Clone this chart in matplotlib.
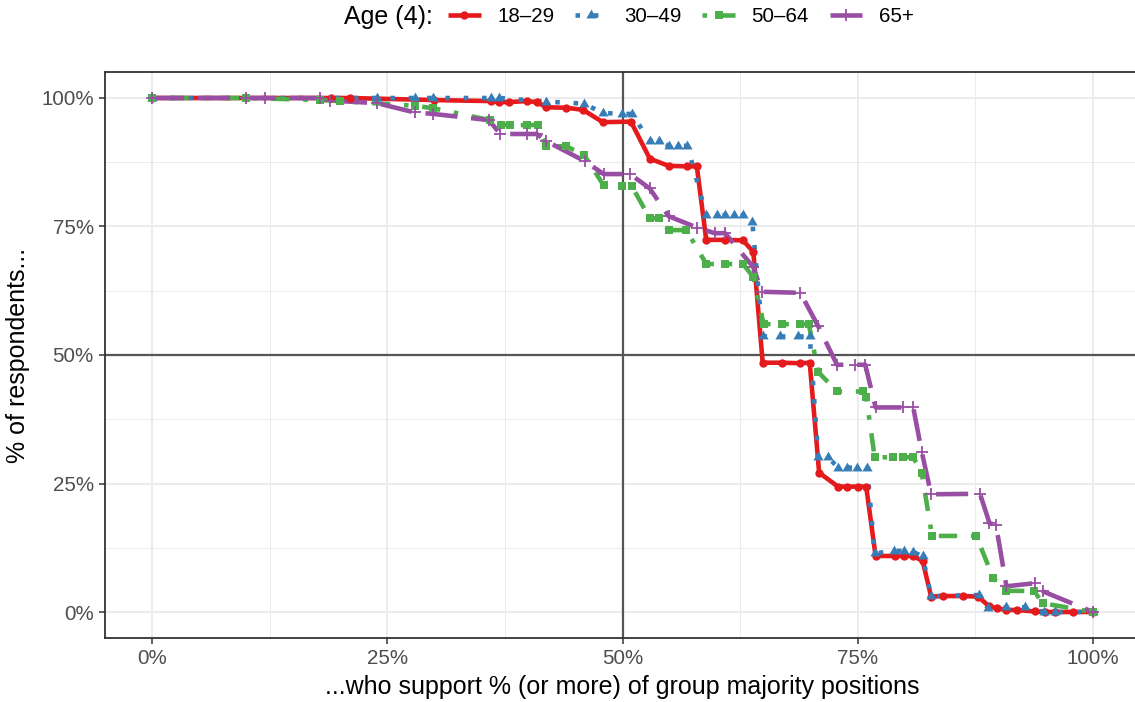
import numpy as np
import matplotlib
matplotlib.use('Agg')
import matplotlib.pyplot as plt
from matplotlib.lines import Line2D
from matplotlib.ticker import PercentFormatter, MultipleLocator

plt.rcParams['font.family'] = ['Liberation Sans', 'DejaVu Sans']

# share of respondents (y) supporting at least x of the group majority positions
x_1829 = [0.0, 0.19, 0.21, 0.30, 0.36, 0.369, 0.379, 0.398, 0.409, 0.419, 0.44, 0.458,
          0.479, 0.509, 0.529, 0.549, 0.569, 0.579, 0.589, 0.609, 0.628, 0.639, 0.649,
          0.669, 0.689, 0.699, 0.709, 0.729, 0.739, 0.75, 0.759, 0.769, 0.79, 0.799,
          0.809, 0.819, 0.828, 0.841, 0.862, 0.878, 0.889, 0.898, 0.908, 0.919, 0.938,
          0.949, 0.96, 0.979, 1.0]
y_1829 = [1.0, 1.0, 1.0, 0.996, 0.994, 0.992, 0.992, 0.994, 0.992, 0.982, 0.981, 0.977,
          0.953, 0.954, 0.882, 0.868, 0.867, 0.867, 0.724, 0.724, 0.723, 0.701, 0.485,
          0.485, 0.484, 0.485, 0.271, 0.244, 0.244, 0.244, 0.244, 0.109, 0.109, 0.109,
          0.109, 0.099, 0.030, 0.031, 0.031, 0.030, 0.012, 0.007, 0.004, 0.004, 0.001,
          0.0, 0.0, 0.0, 0.0]

x_3049 = [0.0, 0.239, 0.279, 0.299, 0.36, 0.369, 0.419, 0.459, 0.479, 0.499, 0.51,
          0.529, 0.539, 0.549, 0.559, 0.569, 0.589, 0.60, 0.609, 0.618, 0.628, 0.638,
          0.649, 0.667, 0.687, 0.699, 0.708, 0.718, 0.729, 0.739, 0.749, 0.76, 0.768,
          0.789, 0.799, 0.809, 0.819, 0.828, 0.879, 0.888, 0.908, 0.928, 0.948, 0.96, 1.0]
y_3049 = [1.0, 1.0, 1.0, 1.0, 1.0, 1.0, 0.993, 0.989, 0.971, 0.969, 0.969,
          0.916, 0.916, 0.907, 0.907, 0.907, 0.772, 0.772, 0.772, 0.772, 0.772, 0.758,
          0.536, 0.536, 0.536, 0.536, 0.302, 0.302, 0.281, 0.281, 0.281, 0.281, 0.114,
          0.119, 0.119, 0.117, 0.108, 0.031, 0.033, 0.008, 0.009, 0.009, 0.0, 0.0, 0.0]

x_5064 = [0.0, 0.10, 0.179, 0.20, 0.279, 0.299, 0.359, 0.371, 0.38, 0.398, 0.41, 0.419,
          0.44, 0.459, 0.48, 0.499, 0.51, 0.529, 0.539, 0.549, 0.568, 0.589, 0.609,
          0.628, 0.639, 0.65, 0.669, 0.689, 0.698, 0.708, 0.728, 0.756, 0.759, 0.768,
          0.788, 0.798, 0.809, 0.818, 0.829, 0.876, 0.894, 0.908, 0.937, 0.947, 1.0]
y_5064 = [1.0, 1.0, 0.996, 0.994, 0.985, 0.98, 0.957, 0.948, 0.948, 0.947, 0.948, 0.906,
          0.906, 0.89, 0.83, 0.828, 0.828, 0.766, 0.766, 0.743, 0.743, 0.677, 0.677,
          0.677, 0.652, 0.56, 0.56, 0.56, 0.56, 0.467, 0.429, 0.429, 0.419, 0.301,
          0.301, 0.301, 0.301, 0.271, 0.148, 0.148, 0.066, 0.041, 0.041, 0.017, 0.0]

x_65 = [0.0, 0.10, 0.12, 0.179, 0.189, 0.239, 0.279, 0.299, 0.358, 0.37, 0.398, 0.409,
        0.419, 0.46, 0.48, 0.508, 0.529, 0.549, 0.579, 0.598, 0.609, 0.639, 0.648,
        0.689, 0.708, 0.728, 0.747, 0.758, 0.769, 0.798, 0.809, 0.818, 0.828, 0.88,
        0.89, 0.897, 0.908, 0.938, 0.947, 1.0]
y_65 = [1.0, 1.0, 1.0, 1.0, 0.995, 0.99, 0.972, 0.969, 0.957, 0.93, 0.93, 0.93,
        0.916, 0.877, 0.852, 0.852, 0.824, 0.77, 0.748, 0.737, 0.737, 0.671, 0.623,
        0.621, 0.556, 0.481, 0.481, 0.481, 0.398, 0.398, 0.398, 0.312, 0.229, 0.23,
        0.173, 0.169, 0.05, 0.056, 0.04, 0.0]

age_labels = ['18\u201329', '30\u201349', '50\u201364', '65+']

# custom triangle with its centroid on the data point
tri = [(0, 1), (-0.866, -0.5), (0.866, -0.5), (0, 1)]

series = [
    (x_1829, y_1829, '#E41A1C', None, 'o', 6, 0),
    (x_3049, y_3049, '#377EB8', (1, 3), tri, 8.5, 0),
    (x_5064, y_5064, '#4DAF4A', (1, 3, 4, 3), 's', 6.3, 0),
    (x_65, y_65, '#984EA3', (7, 3), '+', 9, 1.3),
]

lw = 3.3

fig = plt.figure(figsize=(11.35, 7.02), dpi=100)
ax = fig.add_axes([105 / 1135, (702 - 637.7) / 702, (1140 - 105) / 1135, (637.7 - 72.3) / 702])

ax.set_xlim(-0.05, 1.05)
ax.set_ylim(-0.05, 1.05)
ax.xaxis.set_major_locator(MultipleLocator(0.25))
ax.yaxis.set_major_locator(MultipleLocator(0.25))
ax.xaxis.set_minor_locator(MultipleLocator(0.125))
ax.yaxis.set_minor_locator(MultipleLocator(0.125))
ax.xaxis.set_major_formatter(PercentFormatter(1.0, decimals=0))
ax.yaxis.set_major_formatter(PercentFormatter(1.0, decimals=0))

ax.grid(which='major', color='#EBEBEB', lw=1.3, zorder=0)
ax.grid(which='minor', color='#EBEBEB', lw=0.7, zorder=0)
ax.set_axisbelow(True)
ax.tick_params(which='minor', length=0)
ax.tick_params(which='major', length=4, width=1.1, color='#333333',
               labelsize=14.8, labelcolor='#4D4D4D', pad=4)
for s in ax.spines.values():
    s.set_color('#333333')
    s.set_linewidth(1.3)

ax.axvline(0.5, color='#555555', lw=1.6, zorder=1)
ax.axhline(0.5, color='#555555', lw=1.6, zorder=1)

handles = []
for xs, ys, col, dash, mk, ms, mew in series:
    line, = ax.plot(xs, ys, color=col, lw=lw, solid_capstyle='butt',
                    dash_capstyle='butt', zorder=2)
    if dash is not None:
        line.set_dashes(dash)
    ax.plot(xs, ys, ls='none', marker=mk, ms=ms, color=col, mew=mew, zorder=3)
    h = Line2D([], [], color=col, lw=lw, marker=mk, ms=ms, mew=mew,
               solid_capstyle='butt', dash_capstyle='butt')
    if dash is not None:
        h.set_dashes(dash)
    handles.append(h)

ax.set_xlabel('...who support % (or more) of group majority positions', fontsize=18, labelpad=5)
ax.set_ylabel('% of respondents...', fontsize=18, labelpad=8)

fig.text(433 / 1135, 1 - 17 / 702, 'Age (4):', fontsize=18, ha='right', va='center')
fig.legend(handles, age_labels, loc='center left', bbox_to_anchor=(448 / 1135, 1 - 17 / 702),
           ncol=4, frameon=False, fontsize=14.8, handlelength=1.6, handletextpad=0.8,
           columnspacing=1.0, borderpad=0, borderaxespad=0)

fig.savefig('out.png', dpi=100)
